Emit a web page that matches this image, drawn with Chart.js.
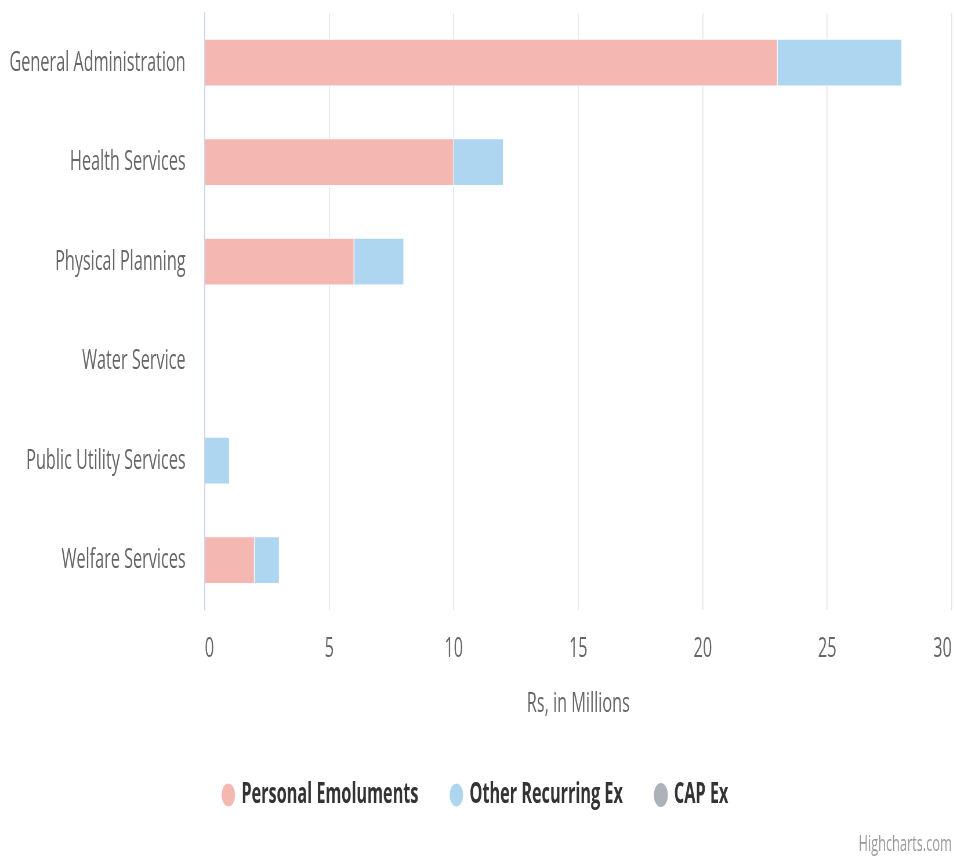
<!DOCTYPE html>
<html>
<head>
<meta charset="utf-8">
<script src="https://cdn.jsdelivr.net/npm/chart.js@4.4.1/dist/chart.umd.min.js"></script>
<style>
  html, body { margin: 0; padding: 0; background: #fff; overflow: hidden; }
  /* narrow look: draw wide, squeeze horizontally */
  #wrap { width: 1645px; height: 857px; transform: scaleX(0.58); transform-origin: 0 0; }
</style>
</head>
<body>
<div id="wrap"><canvas id="budgetChart"></canvas></div>
<script>
const SQUEEZE = 0.58;

const categories = ["General Administration", "Health Services", "Physical Planning", "Water Service", "Public Utility Services", "Welfare Services"];
const personalEmoluments = [23, 10, 6, 0, 0, 2];
const otherRecurringEx = [5, 2, 2, 0, 1, 1];
const capEx = [0, 0, 0, 0, 0, 0];
const seriesNames = ["Personal Emoluments", "Other Recurring Ex", "CAP Ex"];
const seriesColors = ["#f5b7b1", "#aed6f1", "#abb2b9"];
const xMax = 30;
const xStep = 5;
const xTitle = "Rs, in Millions";

const FONT = "'Open Sans', 'DejaVu Sans', sans-serif";
const thin = 1 / SQUEEZE;

// credits text in the bottom right corner
const creditPlugin = {
  id: "credit",
  afterDraw(chart) {
    const ctx = chart.ctx;
    ctx.save();
    ctx.font = "22px " + FONT;
    ctx.fillStyle = "#999";
    ctx.textAlign = "right";
    ctx.textBaseline = "middle";
    ctx.fillText("Highcharts.com", chart.width - 4, 845);
    ctx.restore();
  }
};

function makeSet(i, values) {
  return {
    label: seriesNames[i],
    data: values,
    backgroundColor: seriesColors[i],
    borderColor: "#ffffff",
    borderWidth: c => (c.raw ? 1 : 0),
    pointStyle: "circle"
  };
}

new Chart(document.getElementById("budgetChart"), {
  type: "bar",
  data: {
    labels: categories,
    datasets: [
      makeSet(0, personalEmoluments),
      makeSet(1, otherRecurringEx),
      makeSet(2, capEx)
    ]
  },
  plugins: [creditPlugin],
  options: {
    indexAxis: "y",
    responsive: true,
    maintainAspectRatio: false,
    animation: false,
    categoryPercentage: 1,
    barPercentage: 0.48,
    layout: { padding: { top: 13, right: 4, bottom: 38, left: 0 } },
    scales: {
      x: {
        stacked: true,
        min: 0,
        max: xMax,
        ticks: { stepSize: xStep, color: "#666", padding: 22, maxRotation: 0, align: "inner", font: { family: FONT, size: 28 } },
        grid: { color: "#e6e6e6", lineWidth: thin, drawTicks: false },
        border: { display: false },
        title: {
          display: true,
          text: xTitle,
          color: "#666",
          font: { family: FONT, size: 28 },
          padding: { top: 0, bottom: 3 }
        },
        afterFit(scale) {
          scale.paddingLeft = 0;
          scale.paddingRight = 0;
        }
      },
      y: {
        stacked: true,
        ticks: { color: "#666", padding: 25, font: { family: FONT, size: 28 } },
        grid: { display: false },
        border: { display: true, color: "#ccd6eb", width: thin },
        afterFit(scale) {
          scale.width = 353;
          scale.paddingTop = 0;
          scale.paddingBottom = 0;
        }
      }
    },
    plugins: {
      legend: {
        position: "bottom",
        labels: {
          usePointStyle: true,
          boxHeight: 17,
          boxWidth: 17,
          padding: 57,
          color: "#333",
          font: { family: FONT, size: 28, weight: "bold" }
        }
      },
      tooltip: { enabled: false }
    }
  }
});
</script>
</body>
</html>
